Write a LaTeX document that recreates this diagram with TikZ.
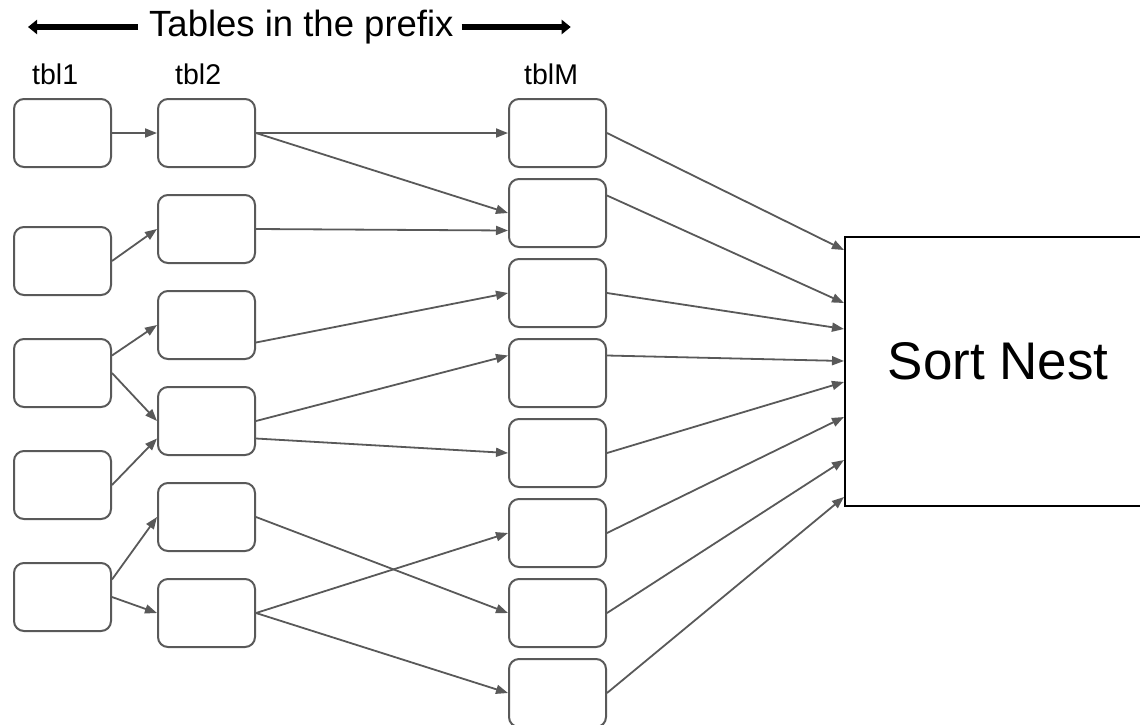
\documentclass[tikz,border=0pt]{standalone}
\usepackage{fontspec}
\setmainfont{Liberation Sans}
\usetikzlibrary{arrows.meta,calc}
\definecolor{linegray}{RGB}{89,89,89}
\begin{document}
\begin{tikzpicture}[x=1pt,y=-1pt,
  tbox/.style={rectangle,rounded corners=10pt,draw=linegray,line width=2pt,
    minimum width=97pt,minimum height=68pt,inner sep=0pt,anchor=north west},
  conn/.style={draw=linegray,line width=1.8pt,
    -{Triangle[length=12pt,width=9pt,fill=linegray]}},
  harrow/.style={draw=black,line width=6pt,
    -{Triangle[length=9pt,width=14pt]}},
  hdr/.style={font=\fontsize{36.5}{40}\selectfont,inner sep=0pt,anchor=base west},
  lbl/.style={font=\fontsize{28.5}{32}\selectfont,inner sep=0pt,anchor=base west}]
\useasboundingbox (0,0) rectangle (1140,724);
\clip (0,0) rectangle (1140,724);

% header
\node[hdr] (title) at (149,36) {Tables in the prefix};
\coordinate (lt) at ($(title.base west)+(-11,-9)$);
\coordinate (la) at ($(lt)+(-110,0)$);
\coordinate (rt) at ($(title.base east)+(8,-9)$);
\coordinate (ra) at ($(rt)+(109,0)$);
\draw[harrow] (lt) -- (la);
\draw[harrow] (rt) -- (ra);

\node[lbl] (l1) at (32,84) {tbl1};
\node[lbl] (l2) at (175,84) {tbl2};
\node[lbl] (lM) at (524,84) {tblM};

% first table column
\node[tbox] (c11) at (13,98) {};
\node[tbox] (c12) at (13,226) {};
\node[tbox] (c13) at (13,338) {};
\node[tbox] (c14) at (13,450) {};
\node[tbox] (c15) at (13,562) {};

% second table column
\node[tbox] (c21) at (157,98) {};
\node[tbox] (c22) at (157,194) {};
\node[tbox] (c23) at (157,290) {};
\node[tbox] (c24) at (157,386) {};
\node[tbox] (c25) at (157,482) {};
\node[tbox] (c26) at (157,578) {};

% last table column
\foreach \i/\y in {1/98,2/178,3/258,4/338,5/418,6/498,7/578,8/658}
  \node[tbox] (c3\i) at (508,\y) {};

% sort nest
\node[rectangle,draw=black,line width=2.3pt,anchor=north west,
  minimum width=306pt,minimum height=269pt,text depth=22pt,
  font=\fontsize{53}{60}\selectfont] (sort) at (844,236) {Sort Nest};

% connectors, column 1 to column 2
\draw[conn] (c11.east) -- (c21.west);
\draw[conn] (c12.east) -- (c22.west);
\draw[conn] ($(c13.north east)!.25!(c13.south east)$) -- (c23.west);
\draw[conn] (c13.east) -- (c24.west);
\draw[conn] (c14.east) -- ($(c24.north west)!.75!(c24.south west)$);
\draw[conn] ($(c15.north east)!.25!(c15.south east)$) -- (c25.west);
\draw[conn] (c15.east) -- (c26.west);

% column 2 to column 3
\draw[conn] (c21.east) -- (c31.west);
\draw[conn] (c21.east) -- (c32.west);
\draw[conn] (c22.east) -- ($(c32.north west)!.75!(c32.south west)$);
\draw[conn] ($(c23.north east)!.75!(c23.south east)$) -- (c33.west);
\draw[conn] (c24.east) -- ($(c34.north west)!.25!(c34.south west)$);
\draw[conn] ($(c24.north east)!.75!(c24.south east)$) -- (c35.west);
\draw[conn] (c25.east) -- (c37.west);
\draw[conn] (c26.east) -- (c36.west);
\draw[conn] (c26.east) -- (c38.west);

% column 3 into the sort nest
\foreach \i/\d in {1/14,2/67,3/93,4/125,5/146,6/181,7/224,8/261}
  \coordinate (s\i) at ($(sort.north west)+(0,\d)$);
\draw[conn] (c31.east) -- (s1);
\draw[conn] ($(c32.north east)!.25!(c32.south east)$) -- (s2);
\draw[conn] (c33.east) -- (s3);
\draw[conn] ($(c34.north east)!.25!(c34.south east)$) -- (s4);
\draw[conn] (c35.east) -- (s5);
\draw[conn] (c36.east) -- (s6);
\draw[conn] (c37.east) -- (s7);
\draw[conn] (c38.east) -- (s8);
\end{tikzpicture}
\end{document}
